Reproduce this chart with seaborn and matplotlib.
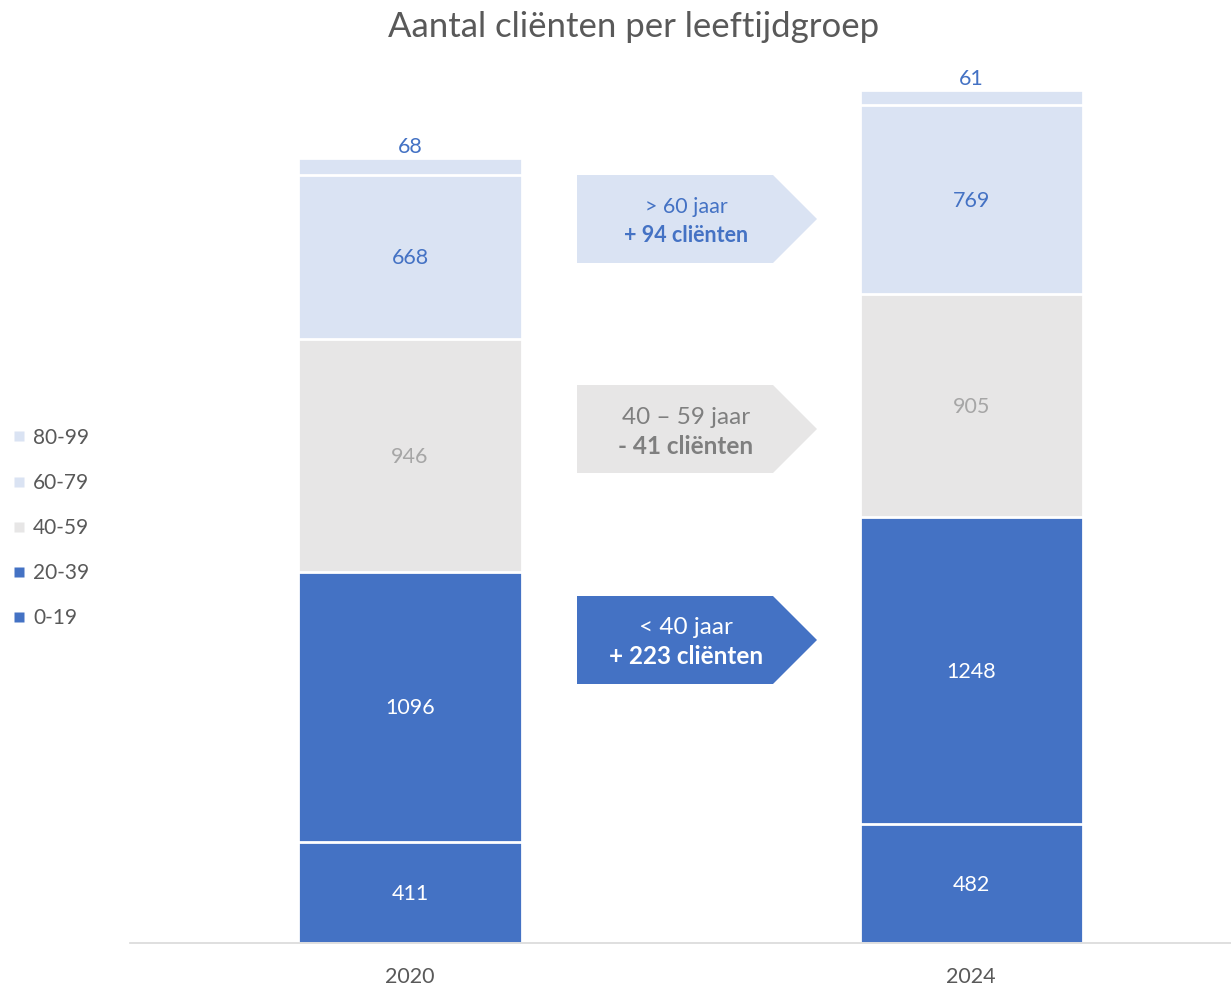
import numpy as np
import pandas as pd
import seaborn as sns
import matplotlib.pyplot as plt
from matplotlib.patches import Polygon
from matplotlib.lines import Line2D

# data
years = ["2020", "2024"]
groups = ["0-19", "20-39", "40-59", "60-79", "80-99"]
v_0_19 = [411, 482]
v_20_39 = [1096, 1248]
v_40_59 = [946, 905]
v_60_79 = [668, 769]
v_80_99 = [68, 61]

arrow_lines = [
    ("> 60 jaar", "+ 94 cliënten"),
    ("40 – 59 jaar", "- 41 cliënten"),
    ("< 40 jaar", "+ 223 cliënten"),
]

DARK = "#4472C4"
GREY = "#E7E6E6"
LIGHT = "#DAE3F3"
colors = [DARK, DARK, GREY, LIGHT, LIGHT]
label_colors = ["white", "white", "#A6A6A6", DARK, DARK]

sns.set_theme(style="white")
plt.rcParams["font.family"] = ["Lato", "DejaVu Sans"]

W, H = 1231, 985
fig = plt.figure(figsize=(W / 100, H / 100), dpi=100)
ax = fig.add_axes([130 / W, (H - 943) / H, 1 - 130 / W, (943 - 60) / H])

values = np.array([v_0_19, v_20_39, v_40_59, v_60_79, v_80_99])
cum = values.cumsum(axis=0)

# stacked bars: draw cumulative totals from the top layer down
for i in range(len(groups) - 1, -1, -1):
    df = pd.DataFrame({"year": years, "total": cum[i]})
    sns.barplot(data=df, x="year", y="total", color=colors[i], saturation=1,
                width=0.3975, edgecolor="white", linewidth=2, ax=ax)

# value labels
for i in range(len(groups)):
    for j in range(len(years)):
        if i == len(groups) - 1:
            y = cum[i][j] + 45
        else:
            y = cum[i][j] - values[i][j] / 2 - 6
        ax.text(j, y, str(values[i][j]), ha="center", va="center",
                color=label_colors[i], fontsize=15.5)

ax.set_xlim(-0.499, 1.463)
ax.set_ylim(0, (943 - 60) / 0.2462)
ax.set_xlabel("")
ax.set_ylabel("")
ax.set_yticks([])
for s in ["top", "right", "left"]:
    ax.spines[s].set_visible(False)
ax.spines["bottom"].set_color("#D9D9D9")
ax.spines["bottom"].set_linewidth(1.2)
ax.tick_params(axis="x", length=0, labelsize=15.5, labelcolor="#595959", pad=17)

fig.suptitle("Aantal cliënten per leeftijdgroep", x=634 / W, y=1 - 27 / H,
             va="center", fontsize=25, color="#595959")

# arrows between the bars
arrow_boxes = [(175, 263), (385, 473), (596, 684)]
arrow_fill = [LIGHT, GREY, DARK]
arrow_text = [DARK, "#7F7F7F", "white"]
arrow_size = [15.5, 17.5, 17.5]
x0, x1, xt = 577, 773, 817
for (top, bot), fc, tc, fs, (l1, l2) in zip(arrow_boxes, arrow_fill, arrow_text,
                                           arrow_size, arrow_lines):
    mid = (top + bot) / 2
    pts = [(x0, top), (x1, top), (xt, mid), (x1, bot), (x0, bot)]
    pts = [(px / W, 1 - py / H) for px, py in pts]
    fig.patches.append(Polygon(pts, closed=True, facecolor=fc, edgecolor="none",
                               transform=fig.transFigure, zorder=3))
    fig.text(686 / W, 1 - (mid - 12) / H, l1, ha="center", va="center",
             color=tc, fontsize=fs, zorder=4)
    fig.text(686 / W, 1 - (mid + 17) / H, l2, ha="center", va="center",
             color=tc, fontsize=fs, fontweight="bold", zorder=4)

# legend
handles = [Line2D([], [], marker="s", linestyle="none", markersize=7,
                  markerfacecolor=colors[i], markeredgecolor="none")
           for i in range(len(groups) - 1, -1, -1)]
fig.legend(handles, groups[::-1], loc="center left",
           bbox_to_anchor=(4 / W, 1 - 528 / H), frameon=False, fontsize=15,
           labelcolor="#595959", handlelength=0.6, handletextpad=0.4,
           labelspacing=1.21, borderaxespad=0)

fig.savefig("out.png", dpi=100, facecolor="white")
